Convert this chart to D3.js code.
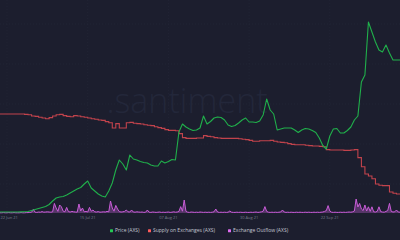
<!DOCTYPE html>
<html lang="en">
<head>
    <meta charset="UTF-8">
    <title>AXS Price vs Supply on Exchanges</title>
    <script src="https://d3js.org/d3.v7.min.js"></script>
    <style>
        html, body {
            margin: 0;
            padding: 0;
            background-color: #1c1e2e;
            overflow: hidden;
        }
        svg {
            display: block;
            font-family: "Open Sans", Arial, sans-serif;
        }
    </style>
</head>
<body>
    <svg></svg>

    <script>
        const width = 400;
        const height = 240;

        // first day of the series, values are one per day (outflow: every 12h)
        const startDate = "2021-06-20";
        const endDate = "2021-10-12";

        const tickDates = ["2021-06-22", "2021-07-15", "2021-08-07", "2021-08-30", "2021-09-22"];
        const tickLabels = ["22 Jun 21", "15 Jul 21", "07 Aug 21", "30 Aug 21", "22 Sep 21"];

        // Price (AXS), USD, daily
        const priceValues = [
            3.8, 3.8, 3.8, 3.8, 3.8, 3.8, 3.9, 4.0, 4.2, 5.0,
            5.8, 6.6, 7.4, 8.2, 9.8, 12.6, 15.0, 15.8, 16.2, 17.4,
            19.0, 20.6, 22.2, 23.4, 26.2, 28.6, 23.0, 20.6, 18.2, 16.6,
            15.8, 20.6, 27.0, 37.4, 45.4, 42.2, 37.4, 49.4, 46.2, 45.4,
            44.2, 43.4, 43.0, 41.4, 40.6, 40.6, 44.6, 43.0, 44.2, 45.8,
            45.4, 67.8, 74.2, 71.8, 70.2, 69.0, 69.4, 71.0, 80.6, 74.2,
            76.2, 79.0, 79.8, 79.4, 77.4, 73.4, 72.2, 73.0, 75.0, 77.4,
            79.0, 75.8, 75.8, 75.4, 76.6, 81.4, 94.2, 85.4, 82.2, 69.4,
            70.2, 71.0, 71.0, 71.0, 69.4, 67.4, 69.4, 70.6, 70.2, 69.0,
            67.4, 63.0, 57.0, 54.2, 64.6, 70.2, 70.6, 67.0, 67.0, 69.0,
            71.8, 77.4, 80.6, 107.8, 113.4, 155.8, 147.8, 139.8, 133.4, 131.8,
            137.4, 131.0, 125.4, 125.4, 125.4
        ];

        // Supply on Exchanges (AXS), millions, daily
        const supplyValues = [
            4.50, 4.50, 4.50, 4.50, 4.50, 4.50, 4.50, 4.49, 4.48, 4.45,
            4.44, 4.42, 4.40, 4.38, 4.41, 4.45, 4.48, 4.49, 4.46, 4.44,
            4.43, 4.46, 4.45, 4.43, 4.42, 4.40, 4.38, 4.37, 4.35, 4.34,
            4.31, 4.28, 4.15, 4.26, 4.15, 4.15, 4.28, 4.29, 4.27, 4.26,
            4.25, 4.23, 4.22, 4.21, 4.18, 4.16, 4.14, 4.11, 4.09, 4.09,
            4.08, 4.01, 3.91, 3.89, 3.89, 3.89, 3.90, 3.90, 3.96, 3.94,
            3.93, 3.91, 3.90, 3.89, 3.89, 3.89, 3.89, 3.89, 3.88, 3.87,
            3.86, 3.84, 3.82, 3.82, 3.83, 3.83, 3.83, 3.84, 3.82, 3.80,
            3.79, 3.78, 3.76, 3.74, 3.73, 3.73, 3.73, 3.72, 3.71, 3.70,
            3.70, 3.69, 3.68, 3.61, 3.60, 3.60, 3.60, 3.60, 3.59, 3.59,
            3.60, 3.61, 3.41, 3.18, 3.00, 2.95, 2.88, 2.75, 2.72, 2.71,
            2.71, 2.55, 2.52, 2.50, 2.49
        ];

        // Exchange Outflow (AXS), thousands, every 12 hours
        const outflowValues = [
            1, 1, 2, 1, 1, 2, 1, 1, 2, 1, 1, 1, 2, 1, 1, 2, 2, 3, 4, 18,
            4, 3, 5, 4, 7, 4, 5, 6, 5, 4, 6, 48, 25, 8, 40, 31, 9, 6, 28, 7,
            5, 8, 6, 5, 4, 45, 10, 25, 6, 8, 5, 28, 9, 15, 6, 5, 7, 4, 5, 6,
            5, 8, 6, 60, 25, 9, 38, 20, 7, 5, 6, 8, 15, 6, 5, 15, 5, 4, 6, 5,
            4, 5, 3, 4, 15, 4, 3, 5, 4, 3, 4, 5, 3, 4, 3, 4, 5, 3, 4, 6,
            4, 5, 8, 32, 9, 65, 8, 4, 3, 5, 4, 3, 4, 3, 5, 4, 3, 4, 3, 4,
            3, 4, 6, 20, 5, 3, 4, 3, 4, 3, 4, 10, 4, 3, 3, 4, 3, 4, 3, 3,
            4, 3, 3, 4, 3, 4, 5, 3, 4, 6, 9, 32, 8, 4, 3, 4, 3, 4, 3, 4,
            5, 15, 5, 3, 4, 3, 4, 3, 3, 4, 3, 4, 3, 3, 4, 3, 4, 3, 3, 4,
            3, 4, 3, 4, 5, 8, 12, 37, 10, 4, 3, 4, 3, 3, 4, 3, 4, 3, 4, 5,
            4, 6, 10, 70, 30, 48, 20, 12, 40, 10, 31, 8, 31, 6, 5, 8, 31, 7, 5, 4,
            8, 12, 48, 8, 5, 6, 15, 5, 4
        ];

        const legendItems = ["Price (AXS)", "Supply on Exchanges (AXS)", "Exchange Outflow (AXS)"];
        const legendColors = ["#26c953", "#ff5b5b", "#de6cf0"];

        const parseDate = d3.timeParse("%Y-%m-%d");
        const start = parseDate(startDate);

        const priceData = priceValues.map((v, i) => ({ date: d3.timeDay.offset(start, i), value: v }));
        const supplyData = supplyValues.map((v, i) => ({ date: d3.timeDay.offset(start, i), value: v }));
        const outflowData = outflowValues.map((v, i) => ({ date: d3.timeHour.offset(start, i * 12), value: v }));

        const svg = d3.select("svg")
            .attr("width", width)
            .attr("height", height);

        svg.append("rect")
            .attr("width", width)
            .attr("height", height)
            .attr("fill", "#1c1e2e");

        const x = d3.scaleTime()
            .domain([start, parseDate(endDate)])
            .range([0, width]);

        const yPrice = d3.scaleLinear().domain([3, 159]).range([213, 18]);
        const ySupply = d3.scaleLinear().domain([2, 7]).range([214, 14]);
        const yOutflow = d3.scaleLinear().domain([0, 1000]).range([213, 13]);

        // grid
        const grid = svg.append("g")
            .attr("stroke", "#252939")
            .attr("stroke-width", 0.6)
            .attr("stroke-dasharray", "1,2");

        grid.selectAll("line.v")
            .data(tickDates)
            .enter().append("line")
            .attr("x1", d => x(parseDate(d)))
            .attr("x2", d => x(parseDate(d)))
            .attr("y1", 0)
            .attr("y2", 213);

        grid.selectAll("line.h")
            .data([3, 7, 11, 15, 19])
            .enter().append("line")
            .attr("x1", 0)
            .attr("x2", width)
            .attr("y1", d => ySupply(d / 4 + 2))
            .attr("y2", d => ySupply(d / 4 + 2));

        // watermark
        svg.append("text")
            .attr("x", 187)
            .attr("y", 113)
            .attr("text-anchor", "middle")
            .attr("font-size", "34px")
            .attr("font-weight", 300)
            .attr("fill", "#23273a")
            .text(".santiment");

        // outflow
        const outflowArea = d3.area()
            .x(d => x(d.date))
            .y0(yOutflow(0))
            .y1(d => yOutflow(d.value));

        svg.append("path")
            .datum(outflowData)
            .attr("fill", "#de6cf0")
            .attr("fill-opacity", 0.3)
            .attr("d", outflowArea);

        svg.append("path")
            .datum(outflowData)
            .attr("fill", "none")
            .attr("stroke", "#c95cd8")
            .attr("stroke-width", 1)
            .attr("d", d3.line().x(d => x(d.date)).y(d => yOutflow(d.value)));

        // supply on exchanges
        svg.append("path")
            .datum(supplyData)
            .attr("fill", "none")
            .attr("stroke", "#c2434c")
            .attr("stroke-width", 1.1)
            .attr("d", d3.line().curve(d3.curveStepAfter).x(d => x(d.date)).y(d => ySupply(d.value)));

        // price
        svg.append("path")
            .datum(priceData)
            .attr("fill", "none")
            .attr("stroke", "#20b04b")
            .attr("stroke-width", 1.1)
            .attr("stroke-linejoin", "round")
            .attr("d", d3.line().x(d => x(d.date)).y(d => yPrice(d.value)));

        // x axis labels (first one pinned to the left edge)
        svg.append("g")
            .selectAll("text")
            .data(tickDates)
            .enter().append("text")
            .attr("x", (d, i) => i === 0 ? 0.5 : x(parseDate(d)))
            .attr("y", 219)
            .attr("text-anchor", (d, i) => i === 0 ? "start" : "middle")
            .attr("font-size", "4px")
            .attr("fill", "#7a7f8f")
            .text((d, i) => tickLabels[i]);

        // legend
        const legendX = [110, 148, 228];
        const legend = svg.append("g")
            .selectAll("g")
            .data(legendItems)
            .enter().append("g")
            .attr("transform", (d, i) => "translate(" + legendX[i] + ",232)");

        legend.append("rect")
            .attr("x", 0)
            .attr("y", -2.8)
            .attr("width", 3)
            .attr("height", 3)
            .attr("rx", 0.5)
            .attr("fill", (d, i) => legendColors[i]);

        legend.append("text")
            .attr("x", 5)
            .attr("y", 0)
            .attr("font-size", "5px")
            .attr("fill", "#c3c6d2")
            .text(d => d);
    </script>
</body>
</html>
